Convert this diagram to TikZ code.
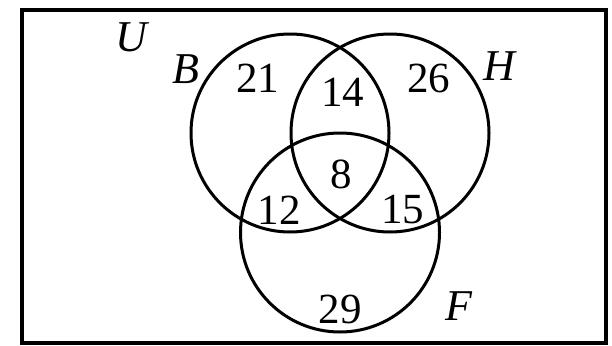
\documentclass[tikz,border=0pt]{standalone}
\usepackage{fontspec}
\setmainfont{Liberation Serif}

\begin{document}
\begin{tikzpicture}[x=1pt, y=-1pt, line width=3.0pt, line cap=round, line join=round,
  num/.style={anchor=center, inner sep=0pt, font=\fontsize{43}{50}\selectfont},
  setname/.style={anchor=center, inner sep=0pt, font=\fontsize{44}{52}\selectfont\itshape}]

  %% ════ 全集矩形 ════
  \draw[line width=3.2pt, line cap=butt, line join=miter] (22.0,10.0) rectangle (606.0,343.0);

  %% ════ 三个圆 ════
  \draw (290.0,133.0) circle (99.0);   % B
  \draw (390.0,133.0) circle (99.0);   % H
  \draw (340.0,232.5) circle (99.5);   % F

  %% ════ 集合名 ════
  \node[setname] (labU) at (131.0,37.5) {U};
  \node[setname] (labB) at (186.0,69.0) {B};
  \node[setname] (labH) at (499.5,66.0) {H};
  \node[setname] (labF) at (458.5,306.0) {F};

  %% ════ 各区域人数 ════
  \node[num] (nB)   at (257.5,78.0)  {21};
  \node[num] (nBH)  at (342.5,92.5)  {14};
  \node[num] (nH)   at (428.5,78.0)  {26};
  \node[num] (nBHF) at (341.0,174.0) {8};
  \node[num] (nBF)  at (279.0,210.0) {12};
  \node[num] (nHF)  at (402.5,210.0) {15};
  \node[num] (nF)   at (340.0,309.0) {29};

  % 钉死画布
  \pgfresetboundingbox
  \path[use as bounding box] (0,0) rectangle (612,345);
\end{tikzpicture}
\end{document}
